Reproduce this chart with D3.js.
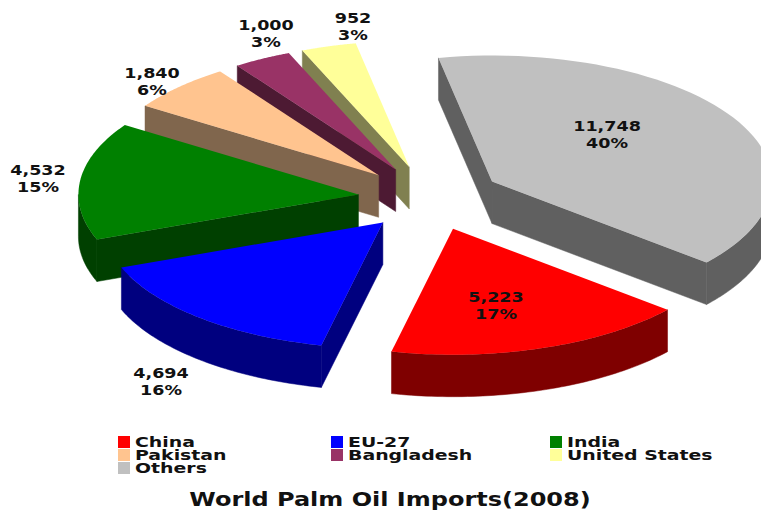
<!DOCTYPE html>
<html>
<head>
<meta charset="utf-8">
<script src="https://cdn.jsdelivr.net/npm/d3@7/dist/d3.min.js"></script>
<style>
  html, body { margin: 0; padding: 0; background: #fff; }
  svg { display: block; }
  text { font-family: "DejaVu Sans", sans-serif; font-weight: bold; fill: #111; }
</style>
</head>
<body>
<svg id="chart" width="761" height="512"></svg>
<script>
// World palm oil imports, 2008 (thousand tonnes)
const categories = ["China", "EU-27", "India", "Pakistan", "Bangladesh", "United States", "Others"];
const imports = [5223, 4694, 4532, 1840, 1000, 952, 11748];
const shares = ["17%", "16%", "15%", "6%", "3%", "3%", "40%"];
const valueLabels = ["5,223", "4,694", "4,532", "1,840", "1,000", "952", "11,748"];
const topColors = ["#ff0000", "#0000ff", "#008000", "#ffc48f", "#993366", "#ffff99", "#c0c0c0"];
const wallColors = ["#7f0000", "#00007f", "#004000", "#80664d", "#4d1a33", "#808050", "#606060"];

// Tilted-disc geometry
const cx = 430, cy = 198, radius = 280, tilt = 0.45, depth = 42, explode = 72;

const labelAnchors = [[496, 297], [161, 373], [38, 170], [152, 73], [266, 25], [353, 18], [607, 126]];

const svg = d3.select("#chart");
const pie = d3.pie().sort(null).startAngle(130 * Math.PI / 180).endAngle(130 * Math.PI / 180 + 2 * Math.PI);
const slices = pie(imports);

const pathLine = d3.line();
const project = (apex, a, r, drop) => [apex[0] + r * Math.sin(a), apex[1] - r * tilt * Math.cos(a) + drop];
const apexOf = s => {
  const mid = (s.startAngle + s.endAngle) / 2;
  return project([cx, cy], mid, explode, 0);
};
const arcPoints = (apex, a0, a1, drop) =>
  d3.range(0, 61).map(i => project(apex, a0 + (a1 - a0) * i / 60, radius, drop));

// Back slices first, so nearer walls overlap them
const drawOrder = [5, 4, 3, 6, 2, 1, 0];

drawOrder.forEach(i => {
  const s = slices[i], apex = apexOf(s);
  const g = svg.append("g");
  const wall = pts => g.append("path").attr("d", pathLine(pts) + "Z")
    .attr("fill", wallColors[i]).attr("stroke", wallColors[i]).attr("stroke-width", 0.5);

  // Radial walls: the leading edge shows in the western half, the trailing edge in the eastern half
  if (Math.sin(s.startAngle) < 0) {
    const p = project(apex, s.startAngle, radius, 0);
    wall([apex, p, [p[0], p[1] + depth], [apex[0], apex[1] + depth]]);
  }
  if (Math.sin(s.endAngle) > 0) {
    const p = project(apex, s.endAngle, radius, 0);
    wall([apex, p, [p[0], p[1] + depth], [apex[0], apex[1] + depth]]);
  }

  // Rim wall: only the part of the arc on the near side of the disc
  const front0 = Math.PI / 2, front1 = 3 * Math.PI / 2;
  [0, 2 * Math.PI].forEach(shift => {
    const a0 = Math.max(s.startAngle, front0 + shift), a1 = Math.min(s.endAngle, front1 + shift);
    if (a1 > a0) {
      wall(arcPoints(apex, a0, a1, 0).concat(arcPoints(apex, a1, a0, depth)));
    }
  });

  // Top face
  g.append("path")
    .attr("d", pathLine([apex].concat(arcPoints(apex, s.startAngle, s.endAngle, 0))) + "Z")
    .attr("fill", topColors[i]);
});

// Text in this chart is set wide, so it gets a horizontal stretch about its own origin
const wideText = (parent, x, y, stretch, size, content, anchor) =>
  parent.append("text")
    .attr("transform", `translate(${x},${y}) scale(${stretch},1)`)
    .attr("text-anchor", anchor)
    .attr("font-size", size)
    .text(content);

// Value and share labels
const labels = svg.append("g");
categories.forEach((c, i) => {
  const [x, y] = labelAnchors[i];
  wideText(labels, x, y + 5, 1.3, 13.5, valueLabels[i], "middle");
  wideText(labels, x, y + 21.5, 1.3, 13.5, shares[i], "middle");
});

// Legend, three columns filled row by row
const legendCol = d3.scaleOrdinal().domain([0, 1, 2]).range([118, 331, 550]);
const legendRow = d3.scaleLinear().domain([0, 2]).range([442, 468]);
const legend = svg.append("g").selectAll("g").data(categories).join("g")
  .attr("transform", (d, i) => `translate(${legendCol(i % 3)},${legendRow(Math.floor(i / 3))})`);
legend.append("rect").attr("x", 0).attr("y", -6).attr("width", 12).attr("height", 12)
  .attr("fill", (d, i) => topColors[i]);
legend.each(function (d) {
  wideText(d3.select(this), 17, 5, 1.4, 13.5, d, "start");
});

// Title
wideText(svg, 390, 506, 1.2, 20, "World Palm Oil Imports(2008)", "middle");
</script>
</body>
</html>
